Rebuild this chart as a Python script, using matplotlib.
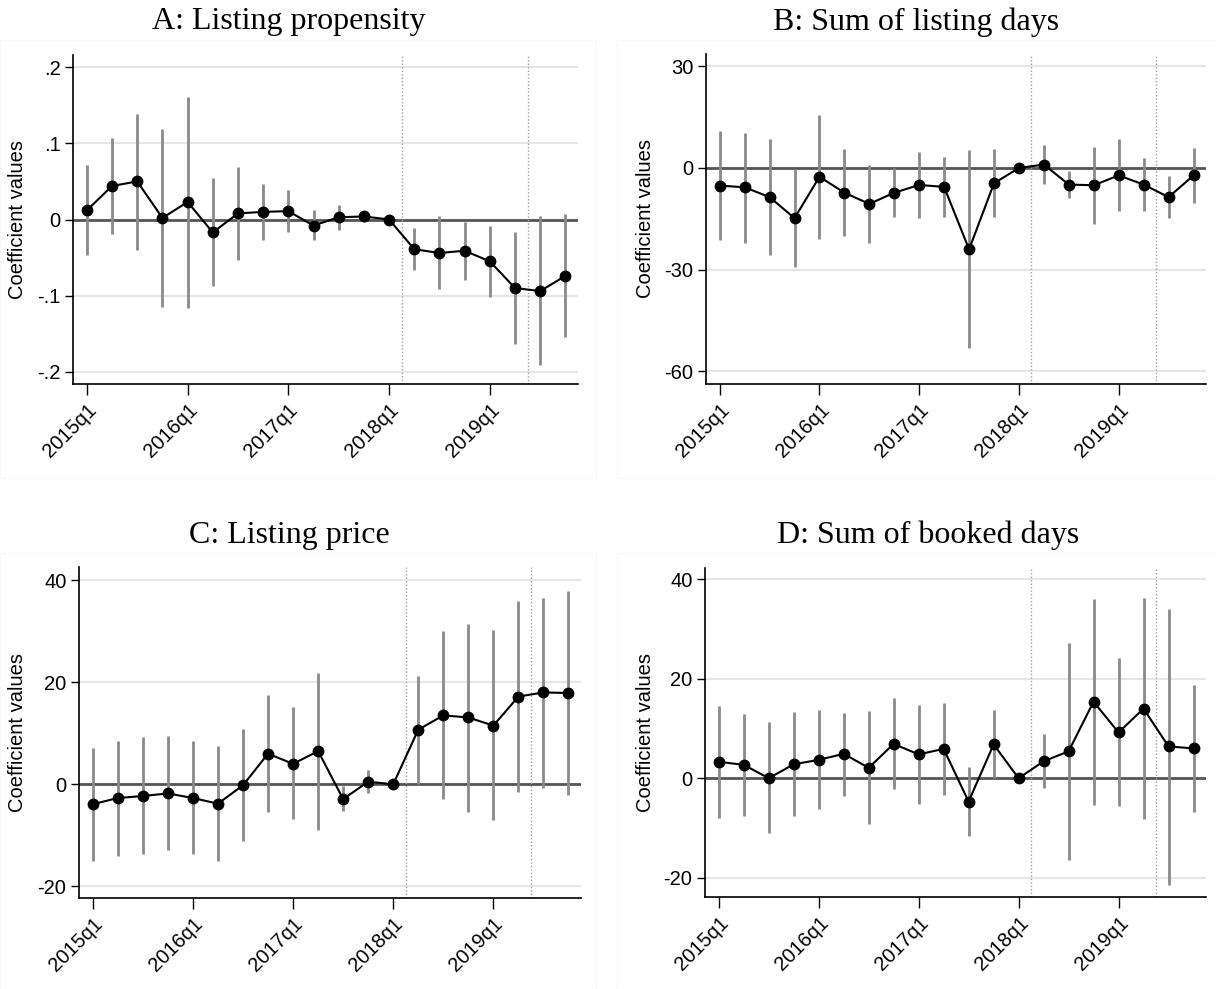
import numpy as np
import matplotlib.pyplot as plt
from matplotlib.patches import Rectangle

quarters = ["2015q1", "2015q2", "2015q3", "2015q4", "2016q1", "2016q2", "2016q3", "2016q4",
            "2017q1", "2017q2", "2017q3", "2017q4", "2018q1", "2018q2", "2018q3", "2018q4",
            "2019q1", "2019q2", "2019q3", "2019q4"]
tick_labels = ["2015q1", "2016q1", "2017q1", "2018q1", "2019q1"]

# A: Listing propensity
coef_a = [0.012, 0.044, 0.050, 0.002, 0.023, -0.017, 0.008, 0.010, 0.011, -0.008,
          0.003, 0.004, 0.0, -0.039, -0.044, -0.041, -0.055, -0.090, -0.094, -0.074]
hi_a = [0.072, 0.107, 0.139, 0.119, 0.161, 0.054, 0.069, 0.047, 0.039, 0.013,
        0.019, 0.008, 0.0, -0.011, 0.004, -0.003, -0.009, -0.017, 0.004, 0.007]
lo_a = [-0.047, -0.019, -0.040, -0.115, -0.116, -0.087, -0.053, -0.027, -0.017, -0.027,
        -0.014, -0.003, 0.0, -0.066, -0.091, -0.079, -0.102, -0.164, -0.191, -0.154]

# B: Sum of listing days
coef_b = [-5.2, -5.7, -8.6, -14.8, -2.6, -7.3, -10.6, -7.3, -5.0, -5.6,
          -24.0, -4.5, 0.0, 1.0, -4.9, -5.1, -2.2, -4.9, -8.6, -2.2]
hi_b = [10.9, 10.4, 8.6, -0.2, 15.6, 5.7, 1.0, -0.1, 4.8, 3.2,
        5.2, 5.5, 0.0, 6.7, -1.0, 6.3, 8.5, 3.0, -2.3, 5.9]
lo_b = [-21.3, -22.0, -25.7, -29.1, -20.8, -20.2, -22.0, -14.6, -14.8, -14.6,
        -53.0, -14.6, 0.0, -4.7, -9.0, -16.4, -12.8, -12.8, -14.8, -10.2]

# C: Listing price
coef_c = [-3.9, -2.7, -2.3, -1.8, -2.7, -3.8, -0.2, 6.0, 4.0, 6.5,
          -2.9, 0.5, 0.0, 10.7, 13.5, 13.1, 11.5, 17.2, 18.0, 17.9]
hi_c = [7.2, 8.4, 9.2, 9.4, 8.4, 7.6, 10.8, 17.5, 15.1, 21.8,
        -0.3, 2.7, 0.0, 21.2, 30.0, 31.5, 30.2, 36.0, 36.5, 37.8]
lo_c = [-15.0, -14.0, -13.7, -12.9, -13.7, -15.0, -11.2, -5.4, -6.9, -8.9,
        -5.2, -1.7, 0.0, 0.1, -2.9, -5.4, -7.1, -1.6, -0.7, -2.2]

# D: Sum of booked days
coef_d = [3.3, 2.7, 0.0, 2.8, 3.7, 4.9, 2.1, 6.9, 4.8, 5.9,
          -4.7, 6.8, 0.0, 3.4, 5.4, 15.4, 9.2, 14.0, 6.4, 6.0]
hi_d = [14.5, 12.9, 11.3, 13.3, 13.7, 13.2, 13.5, 16.1, 14.8, 15.1,
        2.3, 13.8, 0.0, 8.8, 27.3, 36.1, 24.1, 36.2, 34.0, 18.8]
lo_d = [-8.0, -7.6, -11.1, -7.6, -6.2, -3.6, -9.3, -2.2, -5.1, -3.4,
        -11.7, 0.0, 0.0, -1.9, -16.4, -5.4, -5.6, -8.2, -21.4, -6.8]

event_lines = [12.5, 17.5]

panels = [
    ("A: Listing propensity", coef_a, lo_a, hi_a, [-0.2, -0.1, 0, 0.1, 0.2],
     ["-.2", "-.1", "0", ".1", ".2"], (-0.216, 0.216)),
    ("B: Sum of listing days", coef_b, lo_b, hi_b, [-60, -30, 0, 30],
     ["-60", "-30", "0", "30"], (-63.7, 33.6)),
    ("C: Listing price", coef_c, lo_c, hi_c, [-20, 0, 20, 40],
     ["-20", "0", "20", "40"], (-22.3, 42.6)),
    ("D: Sum of booked days", coef_d, lo_d, hi_d, [-20, 0, 20, 40],
     ["-20", "0", "20", "40"], (-23.9, 42.3)),
]

W, H = 1216, 989
# axes boxes in pixels: left, top, right, bottom
boxes = [(73, 55, 578, 384), (706, 54, 1206, 384), (79, 567, 581, 898), (705, 568, 1206, 897)]
# faint graph-region frames and title centres
regions = [(0, 40, 596, 478), (617, 40, 1216, 478), (0, 553, 596, 989), (617, 553, 1216, 989)]
title_pos = [(289, 22), (916, 22), (289, 535), (928, 535)]
label_x = [27, 655, 27, 655]

fig = plt.figure(figsize=(W / 100, H / 100), dpi=100)

for (title, coef, lo, hi, yt, ytl, ylim), box, reg, tp, lx in zip(panels, boxes, regions, title_pos, label_x):
    fig.patches.append(Rectangle((reg[0] / W, 1 - reg[3] / H), (reg[2] - reg[0]) / W, (reg[3] - reg[1]) / H,
                                 transform=fig.transFigure, fill=False, edgecolor="#f8f8f8", lw=1))
    l, t, r, b = box
    ax = fig.add_axes([l / W, 1 - b / H, (r - l) / W, (b - t) / H])
    x = np.arange(len(quarters))
    coef = np.array(coef)
    for yv in yt:
        ax.axhline(yv, color="#e6e6e6", lw=1.5, zorder=0)
    ax.axhline(0, color="#555555", lw=2, zorder=1)
    for xv in event_lines:
        ax.axvline(xv, color="#a0a0a0", lw=1, ls=(0, (1, 1.5)), zorder=1)
    ax.vlines(x, lo, hi, color="#8a8a8a", lw=2, zorder=2)
    ax.plot(x, coef, "-", color="black", lw=1.5, zorder=3)
    ax.plot(x, coef, "o", color="black", ms=7.5, zorder=4)

    ax.set_xlim(-0.55, 19.5)
    ax.set_ylim(*ylim)
    ax.set_yticks(yt)
    ax.set_yticklabels(ytl, fontsize=14.5, family="Liberation Sans")
    ax.set_xticks(x[::4])
    ax.set_xticklabels(tick_labels, rotation=45, ha="right", rotation_mode="anchor",
                       fontsize=14.5, family="Liberation Sans")
    ax.tick_params(axis="y", length=6, width=1, pad=3)
    ax.tick_params(axis="x", length=8, width=1, pad=4)
    for s in ["top", "right"]:
        ax.spines[s].set_visible(False)
    for s in ["left", "bottom"]:
        ax.spines[s].set_linewidth(1.2)
    ax.set_ylabel("Coefficient values", fontsize=14.5, family="Liberation Sans")
    ax.yaxis.set_label_coords((lx - l) / (r - l), 0.5)

    fig.text(tp[0] / W, 1 - tp[1] / H, title, ha="center", va="center", fontsize=23,
             family="Liberation Serif")

fig.savefig("out.png", dpi=100)
